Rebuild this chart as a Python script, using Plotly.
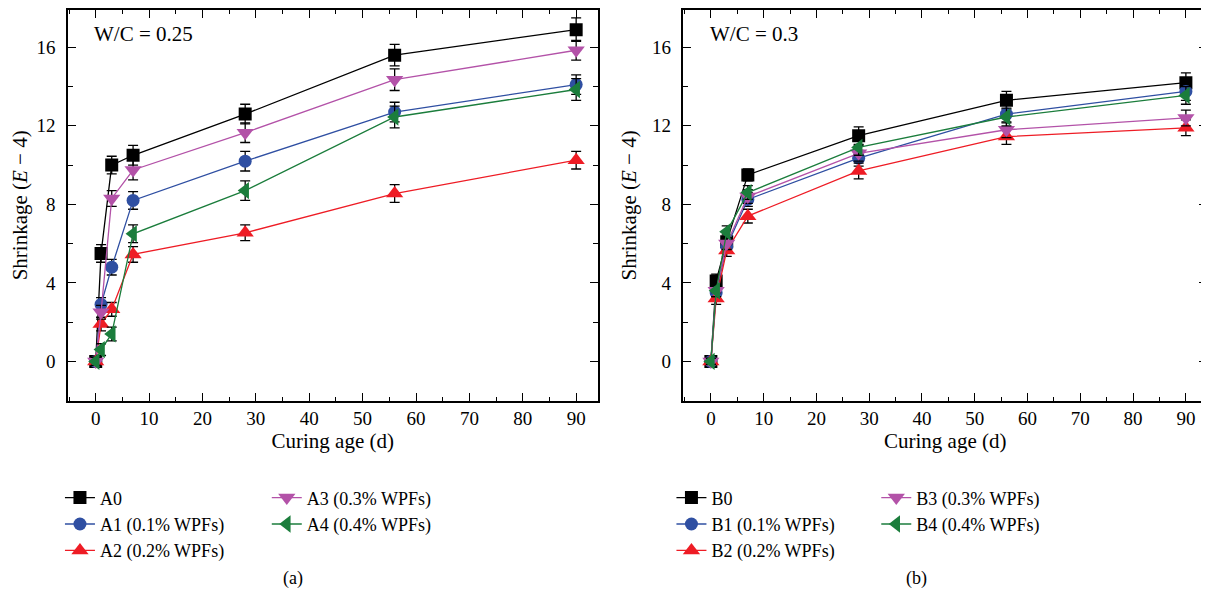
import plotly.graph_objects as go

# ---------------- data ----------------
age = [0, 1, 3, 7, 28, 56, 90]

a_names = ["A0", "A1 (0.1% WPFs)", "A2 (0.2% WPFs)", "A3 (0.3% WPFs)", "A4 (0.4% WPFs)"]
A0 = [0.0, 5.5, 10.0, 10.5, 12.6, 15.6, 16.9]
A1 = [0.0, 2.9, 4.8, 8.2, 10.2, 12.7, 14.1]
A2 = [0.0, 1.9, 2.65, 5.45, 6.55, 8.55, 10.25]
A3 = [0.0, 2.5, 8.3, 9.75, 11.65, 14.35, 15.85]
A4 = [0.0, 0.6, 1.4, 6.5, 8.7, 12.45, 13.85]
A0_err = [0.2, 0.45, 0.45, 0.5, 0.5, 0.55, 0.6]
A1_err = [0.2, 0.35, 0.4, 0.45, 0.5, 0.5, 0.5]
A2_err = [0.2, 0.35, 0.35, 0.4, 0.4, 0.45, 0.45]
A3_err = [0.2, 0.35, 0.4, 0.5, 0.5, 0.55, 0.5]
A4_err = [0.2, 0.3, 0.35, 0.45, 0.5, 0.55, 0.55]

b_names = ["B0", "B1 (0.1% WPFs)", "B2 (0.2% WPFs)", "B3 (0.3% WPFs)", "B4 (0.4% WPFs)"]
B0 = [0.0, 4.1, 6.1, 9.5, 11.5, 13.3, 14.2]
B1 = [0.0, 3.5, 5.85, 8.25, 10.35, 12.6, 13.75]
B2 = [0.0, 3.2, 5.65, 7.4, 9.7, 11.45, 11.9]
B3 = [0.0, 3.6, 6.0, 8.4, 10.6, 11.8, 12.4]
B4 = [0.0, 3.6, 6.6, 8.6, 10.9, 12.45, 13.55]
B0_err = [0.15, 0.35, 0.35, 0.3, 0.45, 0.45, 0.5]
B1_err = [0.15, 0.3, 0.35, 0.35, 0.4, 0.45, 0.45]
B2_err = [0.15, 0.3, 0.3, 0.35, 0.4, 0.4, 0.4]
B3_err = [0.15, 0.3, 0.3, 0.35, 0.4, 0.4, 0.4]
B4_err = [0.15, 0.3, 0.3, 0.35, 0.4, 0.45, 0.45]

x_ticks = [0, 10, 20, 30, 40, 50, 60, 70, 80, 90]
y_ticks = [0, 4, 8, 12, 16]

# ---------------- style ----------------
colors = ["#000000", "#2f4fa2", "#ee1c25", "#b352a8", "#1b7d3c"]
symbols = ["square", "circle", "triangle-up", "triangle-down", "triangle-left"]
sizes = [13, 13, 15, 15, 15]
FONT = "Liberation Serif"

# page body has an 8px margin: figure is offset by (8, 8) on screen
OFF = 8
W, H = 1201, 585

def px_x(s):
    return (s - OFF) / W

def px_y(s):
    return 1 - (s - OFF) / H

fig = go.Figure()

a_series = [A0, A1, A2, A3, A4]
a_errs = [A0_err, A1_err, A2_err, A3_err, A4_err]
b_series = [B0, B1, B2, B3, B4]
b_errs = [B0_err, B1_err, B2_err, B3_err, B4_err]

a_legends = ["legend", "legend", "legend", "legend2", "legend2"]
b_legends = ["legend3", "legend3", "legend3", "legend4", "legend4"]

for i in range(5):
    fig.add_trace(go.Scatter(
        x=age, y=a_series[i], name=a_names[i], mode="lines+markers",
        xaxis="x", yaxis="y", legend=a_legends[i],
        line=dict(color=colors[i], width=1.3),
        marker=dict(symbol=symbols[i], size=sizes[i], color=colors[i]),
        error_y=dict(type="data", array=a_errs[i], color="#000000", thickness=1.3, width=5),
    ))
for i in range(5):
    fig.add_trace(go.Scatter(
        x=age, y=b_series[i], name=b_names[i], mode="lines+markers",
        xaxis="x2", yaxis="y2", legend=b_legends[i],
        line=dict(color=colors[i], width=1.3),
        marker=dict(symbol=symbols[i], size=sizes[i], color=colors[i]),
        error_y=dict(type="data", array=b_errs[i], color="#000000", thickness=1.3, width=5),
    ))

ydom = [px_y(400), 1.0]

axis_common = dict(
    showline=True, linecolor="black", linewidth=1.5, mirror="ticks",
    ticks="inside", ticklen=8, tickwidth=1.3, tickcolor="black",
    showgrid=False, zeroline=False,
    tickfont=dict(family=FONT, size=19, color="black"),
    title_font=dict(family=FONT, size=21, color="black"),
)

xcommon = dict(axis_common, range=[-5.2, 94], tickvals=x_ticks,
               minor=dict(ticks="inside", ticklen=4, dtick=5, tick0=0, tickcolor="black", tickwidth=1.3))
ycommon = dict(axis_common, range=[-2, 17.9], tickvals=y_ticks, ticklabelstandoff=7,
               minor=dict(ticks="inside", ticklen=5, dtick=2, tick0=0, tickcolor="black", tickwidth=1.3))

fig.update_layout(
    width=W, height=H,
    margin=dict(l=0, r=0, t=0, b=0),
    paper_bgcolor="white", plot_bgcolor="white",
    font=dict(family=FONT, size=18, color="black"),
    xaxis=dict(xcommon, domain=[px_x(68), px_x(598)], anchor="y",
               title=dict(text="Curing age (d)", standoff=5)),
    yaxis=dict(ycommon, domain=ydom, anchor="x",
               title=dict(text="Shrinkage (<i>E</i> − 4)", standoff=10)),
    xaxis2=dict(xcommon, domain=[px_x(684), px_x(1208)], anchor="y2",
                title=dict(text="Curing age (d)", standoff=5)),
    yaxis2=dict(ycommon, domain=ydom, anchor="x2",
                title=dict(text="Shrinkage (<i>E</i> − 4)", standoff=10)),
    showlegend=True,
)

leg_common = dict(orientation="v", xanchor="left", yanchor="top",
                  bgcolor="rgba(0,0,0,0)", font=dict(family=FONT, size=18, color="black"),
                  itemwidth=30, tracegroupgap=0)
LEG_TOP = 479
fig.update_layout(
    legend=dict(leg_common, x=px_x(60), y=px_y(LEG_TOP)),
    legend2=dict(leg_common, x=px_x(267), y=px_y(LEG_TOP)),
    legend3=dict(leg_common, x=px_x(672), y=px_y(LEG_TOP)),
    legend4=dict(leg_common, x=px_x(877), y=px_y(LEG_TOP)),
)

fig.add_annotation(text="W/C = 0.25", x=px_x(92), y=px_y(32), xref="paper", yref="paper",
                   xanchor="left", yanchor="middle", showarrow=False,
                   font=dict(family=FONT, size=21, color="black"))
fig.add_annotation(text="W/C = 0.3", x=px_x(709), y=px_y(32), xref="paper", yref="paper",
                   xanchor="left", yanchor="middle", showarrow=False,
                   font=dict(family=FONT, size=21, color="black"))
fig.add_annotation(text="(a)", x=px_x(293), y=px_y(578), xref="paper", yref="paper",
                   xanchor="center", yanchor="middle", showarrow=False,
                   font=dict(family=FONT, size=18, color="black"))
fig.add_annotation(text="(b)", x=px_x(917), y=px_y(578), xref="paper", yref="paper",
                   xanchor="center", yanchor="middle", showarrow=False,
                   font=dict(family=FONT, size=18, color="black"))

fig.write_html("out.html")
